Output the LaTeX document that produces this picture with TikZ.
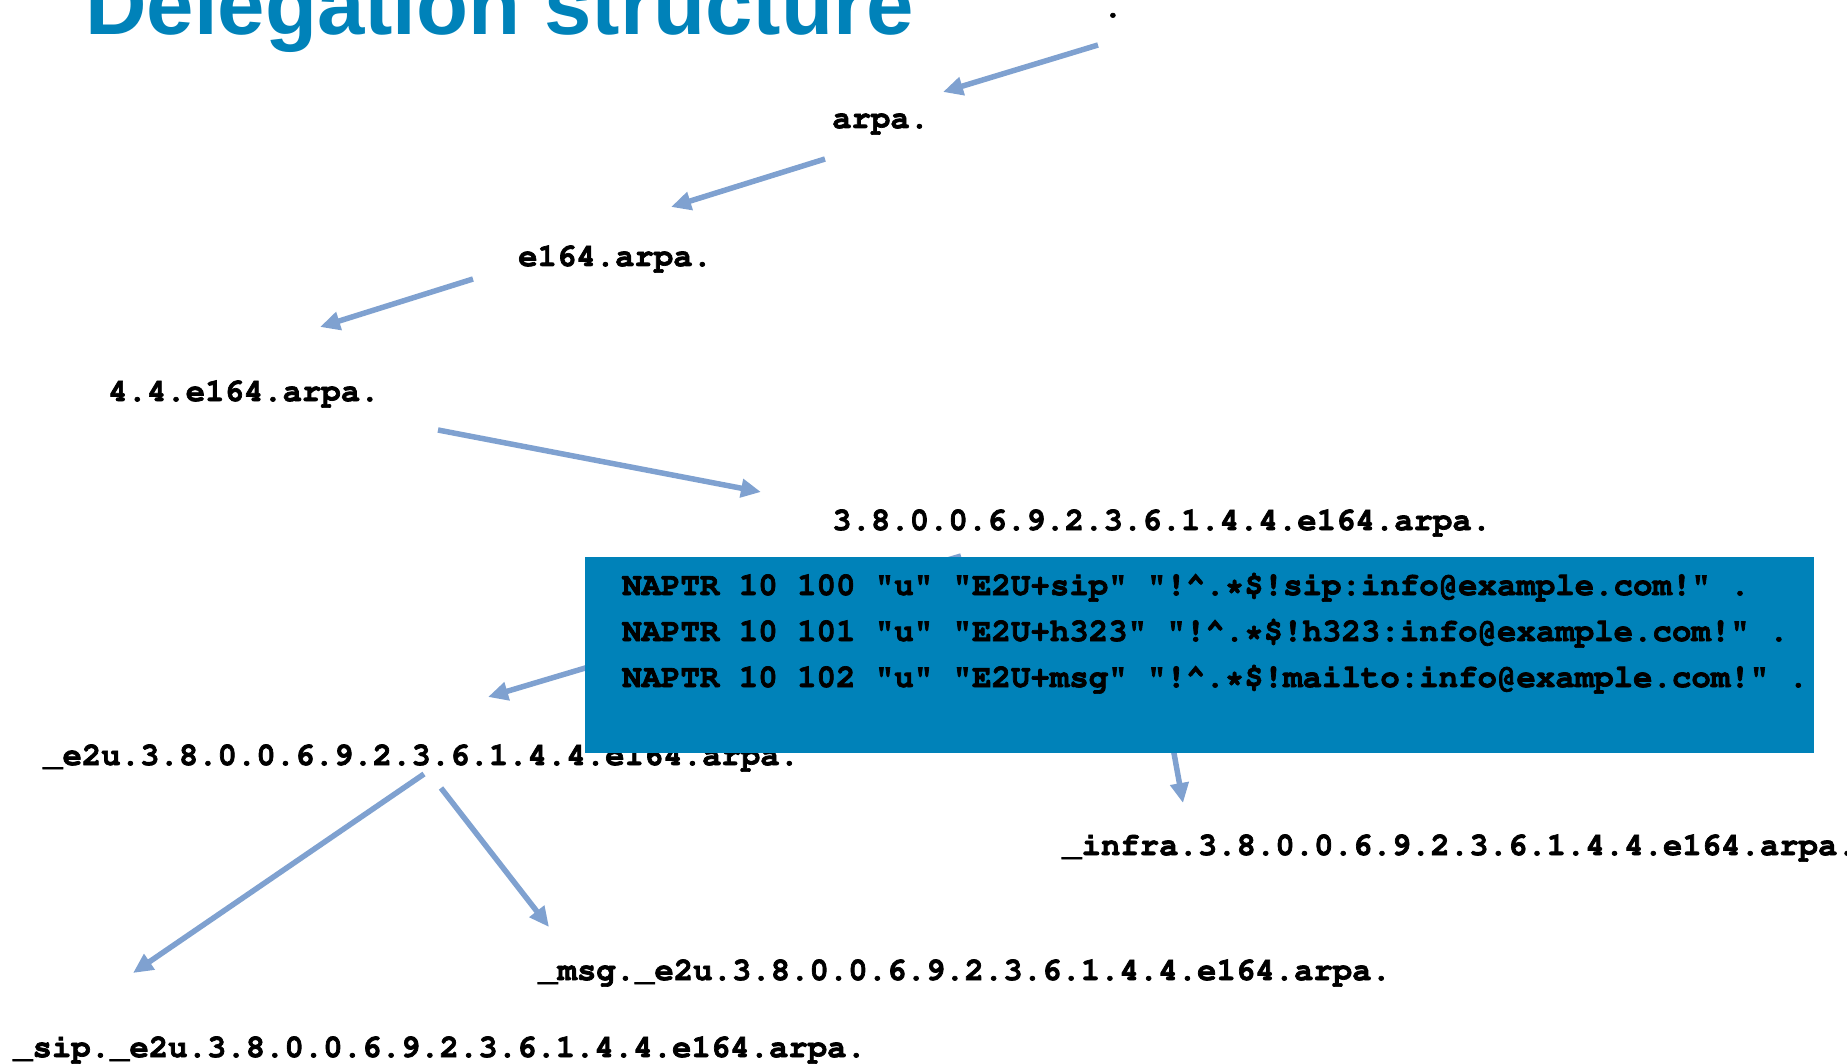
\documentclass[tikz,border=0pt]{standalone}
\usepackage[T1]{fontenc}
\usepackage{fontspec}
\newfontfamily\titlefont{Liberation Sans}
\usetikzlibrary{arrows.meta}
\definecolor{boxblue}{HTML}{0082B9}
\definecolor{arrowc}{HTML}{7FA1D0}
\newcommand\crfont[1]{\fontencoding{T1}\fontfamily{pcr}\fontseries{b}\fontsize{#1}{#1}\selectfont}
\tikzset{
  heavy/.style={execute at begin node={\special{pdf:literal direct 0.7 w 2 Tr}},
                execute at end node={\special{pdf:literal direct 0 Tr}}},
  lbl/.style={anchor=base west,inner sep=0pt,font=\crfont{32.3},text=black,heavy},
  rec/.style={anchor=base west,inner sep=0pt,font=\crfont{32.4},text=black,heavy},
  deleg/.style={draw=arrowc,line width=5.5pt,-{Triangle[length=20pt,width=18pt]}},
}
\begin{document}
\begin{tikzpicture}[x=1pt,y=-1pt]
\useasboundingbox (0,0) rectangle (1847,1064);
% title
\node[anchor=base west,inner sep=0pt,text=boxblue,font=\titlefont\bfseries\fontsize{85.2}{90}\selectfont] (title) at (85,35) {Delegation structure};
% labels
\node[lbl] (root) at (1103,17) {.};
\node[lbl] (arpa) at (832,128) {arpa.};
\node[lbl] (e164) at (518,266) {e164.arpa.};
\node[lbl] (cc) at (108,401) {4.4.e164.arpa.};
\node[lbl] (num) at (832,530) {3.8.0.0.6.9.2.3.6.1.4.4.e164.arpa.};
\node[lbl] (e2u) at (43,765) {\_e2u.3.8.0.0.6.9.2.3.6.1.4.4.e164.arpa.};
\node[lbl] (infra) at (1062,855) {\_infra.3.8.0.0.6.9.2.3.6.1.4.4.e164.arpa.};
\node[lbl] (msg) at (538,980) {\_msg.\_e2u.3.8.0.0.6.9.2.3.6.1.4.4.e164.arpa.};
\node[lbl] (sip) at (13,1057) {\_sip.\_e2u.3.8.0.0.6.9.2.3.6.1.4.4.e164.arpa.};
% connector end points
\coordinate (a1s) at (1098,45);  \coordinate (a1e) at (943,92);
\coordinate (a2s) at (825,159);  \coordinate (a2e) at (671,207);
\coordinate (a3s) at (473,279);  \coordinate (a3e) at (320,327);
\coordinate (a4s) at (438,430);  \coordinate (a4e) at (761,492);
\coordinate (a5s) at (961,556);  \coordinate (a5e) at (488,697);
\coordinate (a6s) at (1139,560); \coordinate (a6e) at (1183,803);
\coordinate (a7s) at (424,774);  \coordinate (a7e) at (133,973);
\coordinate (a8s) at (441,788);  \coordinate (a8e) at (549,927);
\draw[deleg] (a1s) -- (a1e);
\draw[deleg] (a2s) -- (a2e);
\draw[deleg] (a3s) -- (a3e);
\draw[deleg] (a4s) -- (a4e);
\draw[deleg] (a5s) -- (a5e);
\draw[deleg] (a6s) -- (a6e);
\draw[deleg] (a7s) -- (a7e);
\draw[deleg] (a8s) -- (a8e);
% record box
\fill[boxblue] (585,557) rectangle (1814,753);
\node[rec] (r1) at (622,595) {NAPTR 10 100 "u" "E2U+sip" "!\textasciicircum.*\$!sip:info@example.com!" .};
\node[rec] (r2) at (622,641) {NAPTR 10 101 "u" "E2U+h323" "!\textasciicircum.*\$!h323:info@example.com!" .};
\node[rec] (r3) at (622,687) {NAPTR 10 102 "u" "E2U+msg" "!\textasciicircum.*\$!mailto:info@example.com!" .};
\end{tikzpicture}
\end{document}
